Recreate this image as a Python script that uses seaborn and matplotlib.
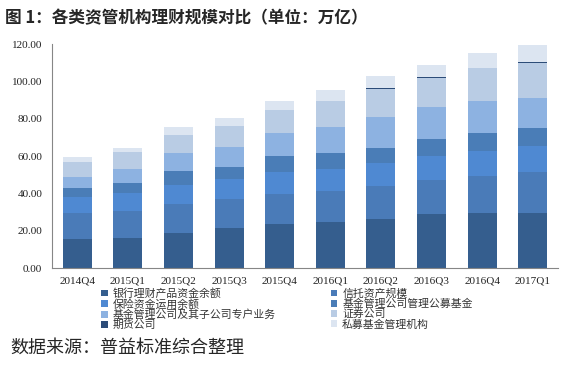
import pandas as pd
import matplotlib
matplotlib.use("Agg")
import matplotlib.pyplot as plt
import seaborn as sns
from matplotlib.patches import Patch
from matplotlib.ticker import FormatStrFormatter, FixedLocator

# data (万亿)
quarters = ["2014Q4", "2015Q1", "2015Q2", "2015Q3", "2015Q4",
            "2016Q1", "2016Q2", "2016Q3", "2016Q4", "2017Q1"]
bank_wm = [15.4, 16.3, 18.6, 21.3, 23.6, 24.7, 26.3, 29.0, 29.3, 29.3]
trust = [13.9, 14.3, 15.7, 15.7, 16.1, 16.6, 17.5, 17.9, 20.1, 21.9]
insurance = [8.8, 9.8, 10.4, 10.7, 11.6, 12.0, 12.5, 13.0, 13.4, 14.1]
public_fund = [4.5, 5.4, 7.5, 6.5, 8.5, 8.1, 8.1, 9.0, 9.5, 9.5]
fund_special = [6.1, 7.1, 9.2, 10.7, 12.6, 14.1, 16.6, 17.3, 17.1, 16.4]
securities = [8.0, 9.0, 10.0, 11.1, 12.0, 13.9, 14.8, 15.6, 17.7, 18.7]
futures = [0.0, 0.0, 0.0, 0.0, 0.0, 0.0, 0.5, 0.5, 0.0, 0.5]
private_fund = [2.5, 2.3, 4.1, 4.3, 5.0, 5.9, 6.7, 6.6, 7.9, 9.1]

series_names = ["银行理财产品资金余额", "信托资产规模", "保险资金运用余额",
                "基金管理公司管理公募基金", "基金管理公司及其子公司专户业务",
                "证券公司", "期货公司", "私募基金管理机构"]
series_values = [bank_wm, trust, insurance, public_fund, fund_special,
                 securities, futures, private_fund]
colors = ["#355e8e", "#4a7bb8", "#4f89d2", "#4a7db7", "#8db2e1",
          "#b9cce4", "#2c4c78", "#dce5f1"]

sns.set_style("white")
plt.rcParams['font.family'] = ['Noto Sans CJK SC', 'DejaVu Sans']

df = pd.DataFrame(dict(zip(series_names, series_values)), index=quarters)
cum = df.cumsum(axis=1)

fig = plt.figure(figsize=(5.79, 3.68), dpi=100)
ax = fig.add_axes([52 / 579, 1 - 268 / 368, 506 / 579, 224 / 368])

# stacked bars: draw cumulative totals from the top layer down
for name, color in reversed(list(zip(series_names, colors))):
    sns.barplot(x=quarters, y=cum[name].values, color=color, width=0.57,
                saturation=1, linewidth=0, errorbar=None, ax=ax)

ax.set_xlim(-0.5, len(quarters) - 0.5)
ax.set_ylim(0, 120)
ax.set_yticks(range(0, 121, 20))
ax.yaxis.set_major_formatter(FormatStrFormatter("%.2f"))
ax.set_xlabel("")
ax.set_ylabel("")

for s in ["top", "right"]:
    ax.spines[s].set_visible(False)
for s in ["left", "bottom"]:
    ax.spines[s].set_color("#868686")
    ax.spines[s].set_linewidth(0.8)

ax.xaxis.set_minor_locator(FixedLocator([i - 0.5 for i in range(len(quarters) + 1)]))
ax.tick_params(axis="x", which="major", length=0, pad=6)
ax.tick_params(axis="x", which="minor", length=4, color="#868686", direction="out")
ax.tick_params(axis="y", length=4, color="#868686", direction="out", pad=3)
for lab in ax.get_xticklabels() + ax.get_yticklabels():
    lab.set_family("Liberation Serif")
    lab.set_fontsize(8)
    lab.set_color("#222222")

handles = [Patch(facecolor=c, edgecolor="none") for c in colors]
order = [0, 2, 4, 6, 1, 3, 5, 7]
leg = fig.legend([handles[i] for i in order], [series_names[i] for i in order],
                 ncol=2, loc="upper left", bbox_to_anchor=(101 / 579, 1 - 288 / 368),
                 frameon=False, fontsize=7.8, handlelength=0.6, handleheight=0.6,
                 handletextpad=0.45, labelspacing=0.0, columnspacing=5.1,
                 borderpad=0, borderaxespad=0)
for t in leg.get_texts():
    t.set_color("#333333")

fig.text(5 / 579, 1 - 18 / 368, "图 1：各类资管机构理财规模对比（单位：万亿）",
         fontsize=12, fontweight="bold", va="center", ha="left")
fig.text(10 / 579, 1 - 348 / 368, "数据来源：普益标准综合整理",
         fontsize=13, style="italic", va="center", ha="left")

fig.savefig("out.png", dpi=100)
